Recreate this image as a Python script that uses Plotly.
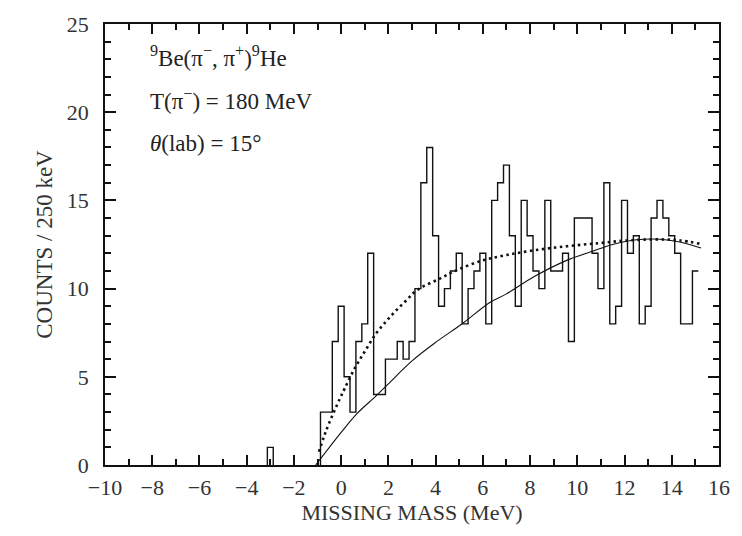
import numpy as np
import plotly.graph_objects as go

# Histogram: 250 keV bins, first bin centred at -3.0 MeV
bin_width = 0.25
first_center = -3.0
counts = [1, 0, 0, 0, 0, 0, 0, 0, 0,          # -3.0 ... -1.0
          3, 3, 7, 9, 5, 3, 7, 8, 12, 4,        # -0.75 ... 1.5
          4, 6, 6, 7, 6, 7, 10, 16, 18, 13,     # 1.75 ... 4.0
          9, 10, 11, 12, 8, 10, 11, 12, 8, 15,  # 4.25 ... 6.5
          16, 17, 13, 9, 15, 13, 11, 10, 15, 11,  # 6.75 ... 9.0
          11, 12, 7, 14, 14, 14, 12, 10, 16, 8,   # 9.25 ... 11.5
          9, 15, 12, 13, 8, 9, 14, 15, 14, 13,    # 11.75 ... 14.0
          12, 8, 8, 11]                           # 14.25 ... 15.0

# Smooth fit curves
solid_x = [-1.08, -0.5, 0.0, 0.66, 1.49, 2.0, 3.0, 4.0, 5.17, 6.28, 7.0, 8.16,
           9.55, 10.6, 11.5, 12.5, 13.5, 14.34, 15.24]
solid_y = [0.0, 1.0, 1.85, 2.9, 3.93, 4.6, 5.9, 6.95, 8.05, 9.2, 9.7, 10.67,
           11.6, 12.1, 12.5, 12.77, 12.8, 12.64, 12.3]

dotted_x = [-0.94, -0.73, -0.52, -0.06, 0.15, 0.59, 1.03, 1.45, 1.91, 2.33, 2.78,
            3.23, 4.2, 4.9, 6.0, 7.0, 8.16, 9.55, 10.94, 12.12, 13.5, 14.34, 15.17]
dotted_y = [0.75, 1.6, 2.34, 3.75, 4.34, 5.52, 6.5, 7.4, 8.15, 8.76, 9.36,
            9.93, 10.58, 11.05, 11.6, 11.9, 12.17, 12.4, 12.58, 12.73, 12.79, 12.73, 12.55]

x_ticks = [-10, -8, -6, -4, -2, 0, 2, 4, 6, 8, 10, 12, 14, 16]
y_ticks = [0, 5, 10, 15, 20, 25]

ink = "#111111"
txt_col = "#333333"
serif = "Liberation Serif, DejaVu Serif, serif"

centers = first_center + bin_width * np.arange(len(counts))
left_edges = centers - bin_width / 2

fig = go.Figure()

# split histogram into contiguous non-zero runs so nothing is drawn over the axis
runs = []
cur = []
for i, c in enumerate(counts):
    if c > 0:
        cur.append(i)
    elif cur:
        runs.append(cur)
        cur = []
if cur:
    runs.append(cur)

for run in runs:
    hx = [left_edges[run[0]]] + [left_edges[i] for i in run] + [left_edges[run[-1]] + bin_width]
    hy = [0] + [counts[i] for i in run] + [counts[run[-1]]]
    if run[-1] < len(counts) - 1:  # closed bin(s): drop back to zero
        hx.append(left_edges[run[-1]] + bin_width)
        hy.append(0)
    fig.add_trace(go.Scatter(x=hx, y=hy, mode="lines",
                             line=dict(shape="hv", color=ink, width=1.4), hoverinfo="skip"))

fig.add_trace(go.Scatter(x=solid_x, y=solid_y, mode="lines",
                         line=dict(shape="spline", smoothing=1.0, color=ink, width=1.1),
                         hoverinfo="skip"))
fig.add_trace(go.Scatter(x=dotted_x, y=dotted_y, mode="lines",
                         line=dict(shape="spline", smoothing=1.0, color=ink, width=2.6, dash="2.5px,3.5px"),
                         hoverinfo="skip"))

fig.update_xaxes(range=[-10, 16], tickvals=x_ticks, ticks="inside", ticklen=10, tickwidth=2,
                 tickcolor=ink, showline=True, linecolor=ink, linewidth=1.5, mirror="ticks",
                 showgrid=False, zeroline=False,
                 minor=dict(ticks="inside", dtick=1, ticklen=6, tickcolor=ink, tickwidth=2),
                 tickfont=dict(family=serif, size=22, color=txt_col), ticklabelstandoff=2,
                 title=dict(text="MISSING MASS (MeV)", font=dict(family=serif, size=22, color=txt_col),
                            standoff=4))
fig.update_yaxes(range=[0, 25], tickvals=y_ticks, ticks="inside", ticklen=11, tickwidth=2,
                 tickcolor=ink, showline=True, linecolor=ink, linewidth=1.5, mirror="ticks",
                 showgrid=False, zeroline=False,
                 minor=dict(ticks="inside", dtick=1, ticklen=6, tickcolor=ink, tickwidth=2),
                 tickfont=dict(family=serif, size=22, color=txt_col), ticklabelstandoff=10,
                 title=dict(text="COUNTS / 250 keV", font=dict(family=serif, size=23, color=txt_col),
                            standoff=8))

annos = [
    ("<sup>9</sup>Be(π<sup>−</sup>, π<sup>+</sup>)<sup>9</sup>He", 23.15),
    ("T(π<sup>−</sup>) = 180 MeV", 20.7),
    ("<i>θ</i>(lab) = 15°", 18.25),
]
for txt, yv in annos:
    fig.add_annotation(x=-8.2, y=yv, xref="x", yref="y", text=txt, showarrow=False,
                       xanchor="left", yanchor="middle",
                       font=dict(family=serif, size=23, color="#222"))

fig.update_layout(width=742, height=536, margin=dict(l=105, r=12, t=20, b=71),
                  paper_bgcolor="white", plot_bgcolor="white", showlegend=False)

fig.write_html("out.html")
